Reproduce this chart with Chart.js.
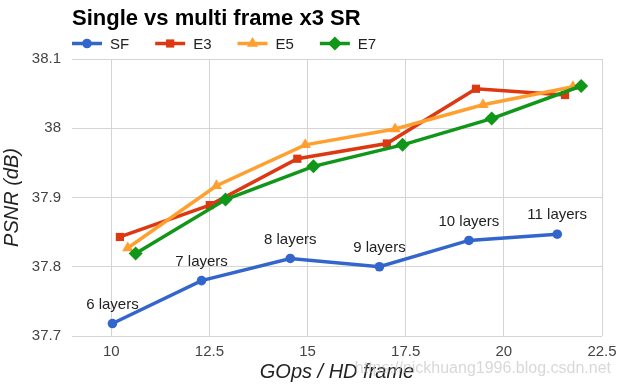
<!DOCTYPE html>
<html lang="en">
<head>
    <meta charset="UTF-8">
    <title>Single vs multi frame x3 SR</title>
    <script src="https://cdn.jsdelivr.net/npm/chart.js"></script>
    <style>
        body { margin: 0; background: #fff; }
        .chart-box { width: 621px; height: 387px; position: relative; }
    </style>
</head>
<body>
    <div class="chart-box">
        <canvas id="chartContainer" width="621" height="387"></canvas>
    </div>

    <script>
        // Data
        const seriesNames = ['SF', 'E3', 'E5', 'E7'];
        const seriesColors = ['#3366cc', '#dc3912', '#ff9f2f', '#109618'];
        const seriesMarkers = ['circle', 'rect', 'triangle', 'rectRot'];

        const sfX = [10.03, 12.30, 14.56, 16.83, 19.11, 21.36];
        const sfY = [37.718, 37.780, 37.812, 37.800, 37.838, 37.847];
        const sfLabels = ['6 layers', '7 layers', '8 layers', '9 layers', '10 layers', '11 layers'];

        const e3X = [10.22, 12.51, 14.74, 17.02, 19.29, 21.56];
        const e3Y = [37.843, 37.889, 37.956, 37.978, 38.057, 38.048];

        const e5X = [10.42, 12.68, 14.94, 17.23, 19.47, 21.76];
        const e5Y = [37.827, 37.917, 37.976, 37.999, 38.034, 38.060];

        const e7X = [10.62, 12.91, 15.15, 17.42, 19.69, 21.97];
        const e7Y = [37.819, 37.897, 37.945, 37.976, 38.014, 38.061];

        const xTicks = [10, 12.5, 15, 17.5, 20, 22.5];
        const yTicks = [37.7, 37.8, 37.9, 38, 38.1];

        const FONT = '"Liberation Sans", Arial, sans-serif';

        const allX = [sfX, e3X, e5X, e7X];
        const allY = [sfY, e3Y, e5Y, e7Y];
        const radii = [4.8, 5.8, 6.5, 7];

        const datasets = seriesNames.map((name, i) => ({
            label: name,
            data: allX[i].map((x, k) => ({ x: x, y: allY[i][k] })),
            showLine: true,
            borderColor: seriesColors[i],
            backgroundColor: seriesColors[i],
            borderWidth: 3.5,
            pointStyle: seriesMarkers[i],
            pointRadius: radii[i],
            pointBorderWidth: 0,
            tension: 0,
            order: seriesNames.length - i
        }));

        // title, legend, layer labels and watermark
        const extras = {
            id: 'extras',
            afterDatasetsDraw(chart) {
                const c = chart.ctx;
                c.save();

                // layer labels above the SF points
                const meta = chart.getDatasetMeta(0);
                c.font = '15px ' + FONT;
                c.fillStyle = '#222';
                c.textAlign = 'center';
                c.textBaseline = 'middle';
                meta.data.forEach((pt, k) => {
                    c.fillText(sfLabels[k], pt.x, pt.y - 19);
                });

                // title
                c.font = 'bold 22px ' + FONT;
                c.fillStyle = '#000';
                c.textAlign = 'left';
                c.fillText('Single vs multi frame x3 SR', 72, 19);

                // legend
                let lx = 72;
                const ly = 43.5;
                c.font = '15px ' + FONT;
                seriesNames.forEach((name, i) => {
                    c.strokeStyle = seriesColors[i];
                    c.fillStyle = seriesColors[i];
                    c.lineWidth = 3.5;
                    c.beginPath();
                    c.moveTo(lx, ly);
                    c.lineTo(lx + 30, ly);
                    c.stroke();
                    Chart.helpers.drawPoint(c, {
                        pointStyle: seriesMarkers[i],
                        radius: radii[i],
                        rotation: 0,
                        borderWidth: 0
                    }, lx + 15, ly);
                    c.fillStyle = '#222';
                    c.fillText(name, lx + 38, ly + 1);
                    lx += 38 + c.measureText(name).width + 26;
                });

                // watermark
                c.font = '16px ' + FONT;
                c.fillStyle = 'rgba(190, 190, 190, 0.6)';
                c.textAlign = 'right';
                c.fillText('https://nickhuang1996.blog.csdn.net', 611, 369);
                c.restore();
            }
        };

        const ctx = document.getElementById('chartContainer').getContext('2d');
        const myChart = new Chart(ctx, {
            type: 'scatter',
            data: { datasets: datasets },
            plugins: [extras],
            options: {
                responsive: false,
                animation: false,
                devicePixelRatio: 1,
                layout: { padding: { top: 59, right: 19, left: 0, bottom: 0 } },
                plugins: {
                    legend: { display: false },
                    tooltip: { enabled: false }
                },
                scales: {
                    x: {
                        type: 'linear',
                        min: 9,
                        max: 22.5,
                        afterBuildTicks: s => { s.ticks = xTicks.map(v => ({ value: v })); },
                        afterFit: s => { s.height = 51; s.paddingRight = 0; s.paddingLeft = 0; },
                        grid: { color: '#d4d4d4', drawTicks: false },
                        border: { display: false },
                        ticks: {
                            padding: 7,
                            color: '#444',
                            font: { family: FONT, size: 15 },
                            callback: v => String(v)
                        },
                        title: {
                            display: true,
                            text: 'GOps / HD frame',
                            color: '#222',
                            font: { family: FONT, size: 20, style: 'italic' },
                            padding: { top: 0, bottom: 3 }
                        }
                    },
                    y: {
                        min: 37.7,
                        max: 38.1,
                        afterBuildTicks: s => { s.ticks = yTicks.map(v => ({ value: v })); },
                        afterFit: s => { s.width = 72; s.paddingTop = 0; s.paddingBottom = 0; },
                        grid: { color: '#d4d4d4', drawTicks: false },
                        border: { display: false },
                        ticks: {
                            padding: 11,
                            color: '#444',
                            font: { family: FONT, size: 15 },
                            callback: v => String(+v.toFixed(1))
                        },
                        title: {
                            display: true,
                            text: 'PSNR (dB)',
                            color: '#222',
                            font: { family: FONT, size: 20, style: 'italic' },
                            padding: { top: 0, bottom: 0 }
                        }
                    }
                }
            }
        });
    </script>
</body>
</html>
